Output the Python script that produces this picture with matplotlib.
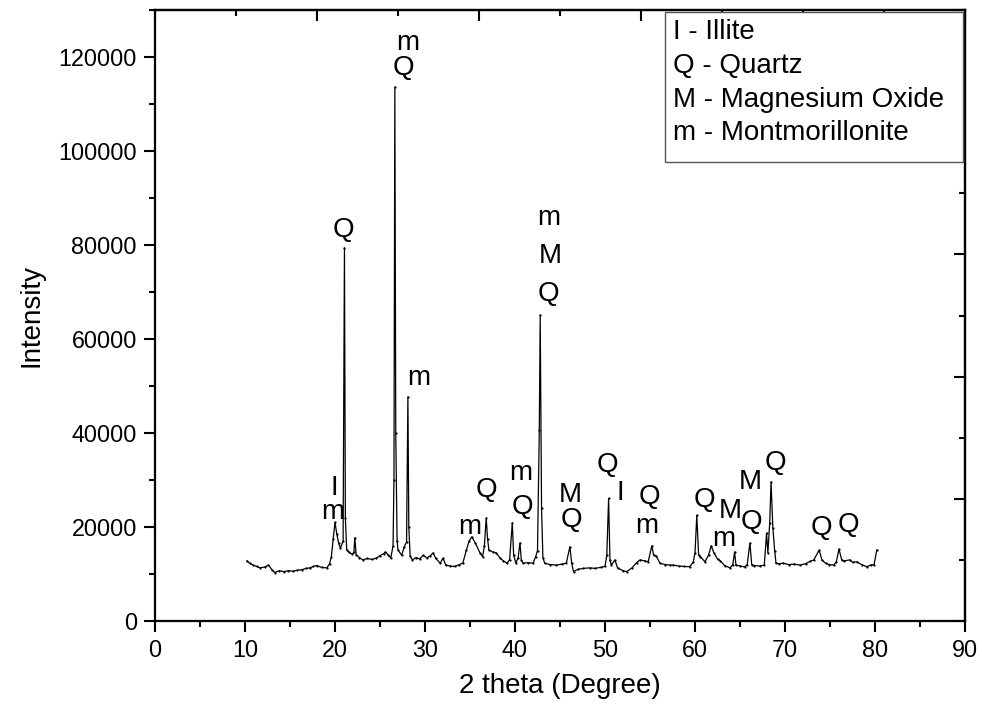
import matplotlib
matplotlib.use("Agg")
import matplotlib.pyplot as plt
from matplotlib.patches import Rectangle
from matplotlib.ticker import FixedLocator, MultipleLocator

plt.rcParams["font.family"] = ["Liberation Sans", "DejaVu Sans"]

# XRD pattern: 2-theta (degree) and intensity (counts)
two_theta = [
    10.2, 10.5, 10.9, 11.3, 11.7, 12.2, 12.6, 13.0, 13.3, 13.8, 14.3, 14.8,
    15.3, 15.8, 16.3, 16.8, 17.2, 17.6, 18.0, 18.5, 19.1, 19.4, 19.6, 19.8,
    20.0, 20.2, 20.4, 20.6, 20.9, 21.05, 21.15, 21.3, 21.5, 21.9, 22.1, 22.2,
    22.35, 22.7, 23.1, 23.6, 24.1, 24.6, 25.0, 25.4, 25.6, 25.9, 26.2, 26.45,
    26.55, 26.65, 26.75, 26.9, 27.0, 27.4, 27.7, 27.95, 28.1, 28.2, 28.35,
    28.6, 29.0, 29.4, 29.8, 30.2, 30.6, 30.9, 31.2, 31.7, 32.0, 32.3, 32.8,
    33.3, 33.8, 34.2, 34.6, 34.9, 35.2, 35.6, 36.1, 36.4, 36.6, 36.8, 36.95,
    37.1, 37.5, 37.9, 38.3, 38.7, 39.1, 39.4, 39.7, 39.85, 40.1, 40.35, 40.55,
    40.7, 40.9, 41.4, 42.0, 42.3, 42.5, 42.7, 42.8, 42.95, 43.1, 43.3, 43.9,
    44.6, 45.2, 45.7, 46.1, 46.3, 46.5, 47.0, 47.6, 48.3, 48.9, 49.5, 50.0,
    50.2, 50.4, 50.55, 50.7, 51.1, 51.4, 52.0, 52.4, 53.0, 53.5, 53.9, 54.4,
    54.8, 55.2, 55.4, 55.7, 56.1, 56.7, 57.2, 57.6, 58.2, 58.8, 59.4, 59.8,
    60.0, 60.2, 60.4, 60.6, 61.1, 61.5, 61.8, 62.1, 62.5, 62.8, 63.3, 63.9,
    64.2, 64.4, 64.55, 65.0, 65.5, 65.8, 66.1, 66.3, 66.6, 67.2, 67.7, 67.95,
    68.1, 68.3, 68.45, 68.65, 68.85, 69.0, 69.3, 69.8, 70.4, 71.0, 71.7, 72.3,
    72.8, 73.2, 73.8, 74.1, 74.5, 74.9, 75.4, 75.7, 76.0, 76.3, 76.6, 77.2,
    77.5, 78.0, 78.5, 79.1, 79.5, 79.9, 80.2,
]
intensity = [
    12800, 12300, 11900, 11600, 11300, 11500, 11900, 10900, 10300, 10700, 10500, 10700,
    10600, 10800, 10900, 11200, 11300, 11600, 11800, 11400, 11300, 12200, 13700, 17500,
    21000, 18500, 16600, 15500, 17000, 79400, 22000, 15200, 14700, 14200, 14600, 17700,
    14100, 13500, 13000, 13300, 13100, 13400, 13900, 14300, 14700, 14100, 13400, 16000,
    30000, 113600, 40000, 17000, 15100, 14000, 15800, 16800, 47700, 20000, 13800,
    13000, 13500, 13200, 14000, 13400, 13900, 14500, 13300, 12300, 13400, 11900, 11700,
    11600, 12000, 12300, 15100, 17000, 17900, 16600, 14500, 13700, 16000, 21900, 17500,
    15100, 14700, 14500, 13500, 12800, 12300, 13000, 20900, 14000, 12300, 13500, 16600,
    13000, 12300, 12400, 12300, 13700, 15000, 40600, 65100, 24000, 13500, 12300, 12000,
    11900, 12100, 12300, 15800, 12300, 10500, 11000, 11200, 11300, 11200, 11400, 11600,
    14000, 26100, 13000, 11900, 13000, 11300, 10700, 10500, 11300, 12400, 13000, 12800,
    12600, 16000, 14000, 13800, 12300, 12000, 11900, 11900, 11700, 11600, 11550, 12500,
    14500, 22500, 14000, 13700, 12600, 14000, 16000, 14500, 13200, 12800, 11800, 11300,
    12000, 14700, 11900, 11700, 11500, 12000, 16600, 12000, 11800, 11700, 11900, 18700,
    14500, 20800, 29600, 19800, 15000, 12300, 12200, 12300, 12000, 12100, 11900, 12200,
    12700, 13000, 15100, 13000, 12300, 12000, 11900, 12600, 15300, 13000, 12800, 13000,
    12500, 12600, 12000, 11550, 11900, 12000, 15100,
]

# Phase markers above the reflections
peak_labels = ["I", "m", "Q", "m", "Q", "m", "m", "Q", "m", "Q",
               "m", "M", "Q", "M", "Q", "Q", "I", "Q", "m", "Q",
               "M", "m", "M", "Q", "Q", "Q", "Q"]
label_x = [19.9, 19.8, 20.9, 28.1, 27.6, 29.3, 35.0, 36.8, 40.6, 40.8,
           43.7, 43.9, 43.7, 46.1, 46.3, 50.3, 51.7, 54.9, 54.6, 61.1,
           63.9, 63.2, 66.1, 68.9, 66.3, 74.1, 77.0]
label_y = [28300, 23200, 83200, 123000, 117700, 51700, 20000, 27900, 31500, 24300,
           85700, 77700, 69600, 26800, 21500, 33200, 27200, 26400, 20200, 25700,
           23300, 17400, 29600, 33600, 21100, 19800, 20400]

legend_lines = ["I - Illite", "Q - Quartz", "M - Magnesium Oxide", "m - Montmorillonite"]

fig = plt.figure(figsize=(9.82, 7.15), dpi=100)
ax = fig.add_axes([155 / 982, 94 / 715, 810 / 982, 611 / 715])

ax.plot(two_theta, intensity, color="black", lw=0.9, marker="o", ms=1.6,
        markeredgewidth=0, zorder=3)

for t, x, y in zip(peak_labels, label_x, label_y):
    ax.text(x, y, t, ha="center", va="center", fontsize=20, color="black")

ax.set_xlim(0, 90)
ax.set_ylim(0, 130000)
ax.xaxis.set_major_locator(MultipleLocator(10))
ax.xaxis.set_minor_locator(MultipleLocator(5))
ax.yaxis.set_major_locator(FixedLocator(range(0, 130001, 20000)))
ax.yaxis.set_minor_locator(FixedLocator(range(10000, 130001, 20000)))
ax.tick_params(which="both", direction="out", width=1.5, labelsize=16.8,
               top=False, right=False)
ax.tick_params(which="major", length=8, pad=5)
ax.tick_params(which="minor", length=4)
for s in ax.spines.values():
    s.set_linewidth(1.6)

ax.set_xlabel("2 theta (Degree)", fontsize=20, labelpad=8)
ax.set_ylabel("Intensity", fontsize=20, labelpad=10)

# Top and right frames carry their own evenly divided inward ticks
top = ax.secondary_xaxis("top")
top.xaxis.set_major_locator(FixedLocator(range(0, 91, 18)))
top.xaxis.set_minor_locator(FixedLocator(range(9, 91, 18)))
top.tick_params(which="both", direction="in", width=1.5, labeltop=False)
top.tick_params(which="major", length=8)
top.tick_params(which="minor", length=4)
top.spines["top"].set_linewidth(1.6)

right = ax.secondary_yaxis("right")
right.yaxis.set_major_locator(FixedLocator(range(0, 130001, 26000)))
right.yaxis.set_minor_locator(FixedLocator(range(13000, 130001, 26000)))
right.tick_params(which="both", direction="in", width=1.5, labelright=False)
right.tick_params(which="major", length=8)
right.tick_params(which="minor", length=4)
right.spines["right"].set_linewidth(1.6)

# Phase key box
ax.add_patch(Rectangle((0.63, 0.751), 0.3675, 0.2457, transform=ax.transAxes,
                       facecolor="white", edgecolor="#555555", lw=1.0, zorder=4))
for i, line in enumerate(legend_lines):
    ax.text(0.639, 0.9645 - i * 0.0555, line, transform=ax.transAxes,
            ha="left", va="center", fontsize=20, zorder=5)

fig.savefig("out.png", dpi=100)
